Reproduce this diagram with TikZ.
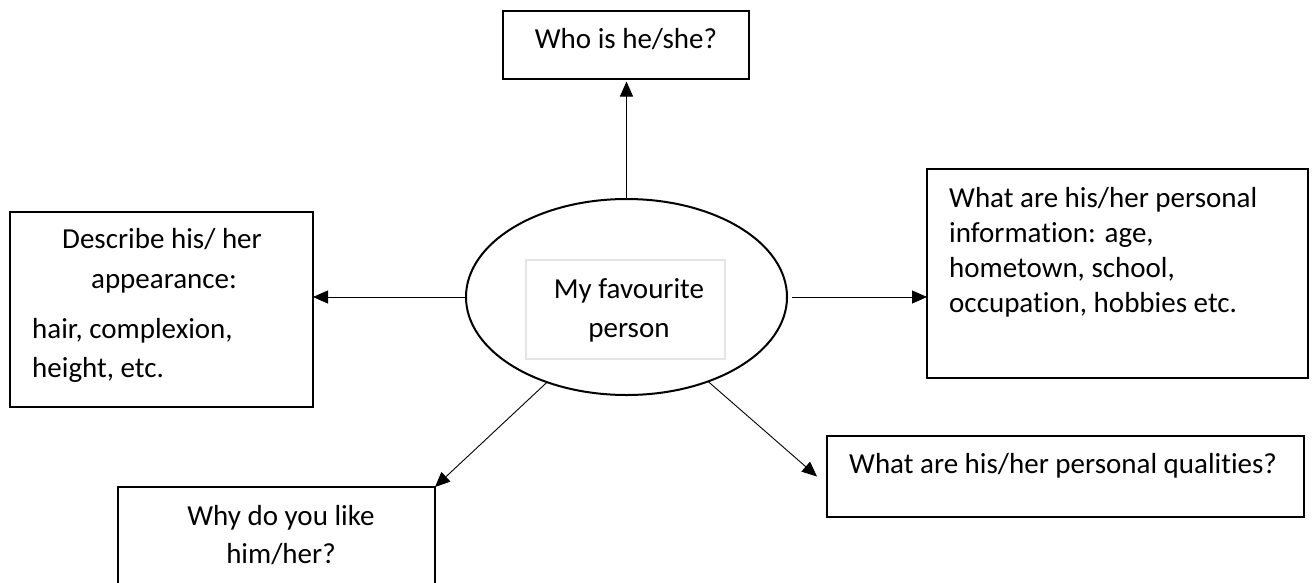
\documentclass[tikz,border=0pt]{standalone}
\usepackage{fontspec}
\setmainfont[Ligatures={NoCommon}]{Carlito}
\usetikzlibrary{arrows.meta,shapes.geometric,calc}
\begin{document}
\begin{tikzpicture}[x=1pt,y=-1pt,
  box/.style={draw, line width=1.3pt, inner sep=0pt, outer sep=0pt},
  txt/.style={anchor=base, inner sep=0pt, font=\fontsize{29pt}{38pt}\selectfont},
  txtl/.style={txt, anchor=base west},
  conn/.style={line width=0.9pt, -{Triangle[length=15pt,width=13pt]}}]
\clip (0,0) rectangle (1314,582);
\fill[white] (0,0) rectangle (1314,582);

% boxes
\node[box, minimum width=246pt, minimum height=68pt] (top) at (626,45) {};
\node[draw, ellipse, line width=2pt, inner sep=0pt, outer sep=0pt,
      minimum width=321pt, minimum height=196pt] (ell) at (626.5,297) {};
\node[draw=black!10, line width=1.5pt, inner sep=0pt, outer sep=0pt,
      minimum width=199pt, minimum height=99pt] (inner) at (625.5,309.5) {};
\node[box, minimum width=303pt, minimum height=195pt] (left) at (161.5,309.5) {};
\node[box, minimum width=381pt, minimum height=209pt] (right) at (1117.5,273.5) {};
\node[box, minimum width=477pt, minimum height=81pt] (br) at (1065.5,476.5) {};
\node[box, minimum width=317pt, minimum height=130pt] (bl) at (276.5,552) {};

% texts
\node[txt] (t1) at (626,48) {Who is he/she?};
\node[txt] (t2) at (629,298) {My favourite};
\node[txt] (t3) at (629,337) {person};
\node[txt] (t4) at (162,248) {Describe his/ her};
\node[txt] (t5) at (164,288) {appearance:};
\node[txtl] (t6) at (32,338) {hair, complexion,};
\node[txtl] (t7) at (32,377) {height, etc.};
\node[txtl] (t8) at (949,207) {What are his/her personal};
\node[txtl] (t9) at (949,242) {information: age,};
\node[txtl] (t10) at (949,277) {hometown, school,};
\node[txtl] (t11) at (949,312) {occupation, hobbies etc.};
\node[txtl] (t12) at (849,473) {What are his/her personal qualities?};
\node[txt] (t13) at (281,525) {Why do you like};
\node[txt] (t14) at (281,563) {him/her?};

% connectors
\coordinate (brtip) at ($(br.west)+(-10,0)$);
\draw[conn, shorten >=2.5pt] (ell.north) -- (ell.north |- top.south);
\draw[conn] (ell.west) -- (ell.west -| left.east);
\draw[conn, shorten <=5pt] (ell.east) -- (ell.east -| right.west);
\draw[conn] (ell.227) -- (bl.north east);
\draw[conn] (ell.314) -- (brtip);
\end{tikzpicture}
\end{document}
